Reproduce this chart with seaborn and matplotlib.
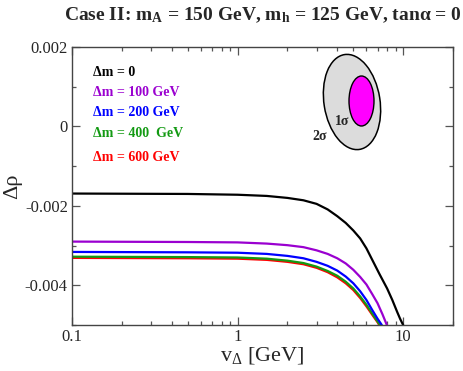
import numpy as np
import pandas as pd
import matplotlib
matplotlib.use("Agg")
import matplotlib.pyplot as plt
import matplotlib.transforms as mtransforms
from matplotlib.patches import Ellipse
from matplotlib.ticker import MultipleLocator, FixedLocator, FixedFormatter
import seaborn as sns

# values
labels = ["Δm = 0", "Δm = 100 GeV", "Δm = 200 GeV", "Δm = 400  GeV", "Δm = 600 GeV"]
colors = ["black", "#9a00d0", "#0000ff", "#139a13", "#ff0000"]

v_dm0 = [0.1, 0.5, 1.0, 1.5, 2.0, 2.5, 3.0, 3.5, 4.0, 4.5, 5.0, 5.5, 6.0,
         6.6, 7.2, 8.0, 8.6, 9.2, 9.6, 10.0]
rho_dm0 = [-0.00169, -0.00170, -0.00172, -0.00175, -0.00180, -0.00186,
           -0.00195, -0.00209, -0.00226, -0.00243, -0.00262, -0.00282,
           -0.00307, -0.00341, -0.00372, -0.00408, -0.00437, -0.00467,
           -0.00485, -0.00500]

v_dm100 = [0.1, 0.5, 1.0, 1.5, 2.0, 2.5, 3.0, 3.5, 4.0, 4.5, 5.0, 5.5, 6.0,
           6.5, 7.0, 7.5, 7.97]
rho_dm100 = [-0.00290, -0.00291, -0.00292, -0.00295, -0.00299, -0.00304,
             -0.00312, -0.00321, -0.00332, -0.00345, -0.00361, -0.00379,
             -0.00398, -0.00422, -0.00445, -0.00473, -0.00500]

v_dm200 = [0.1, 0.5, 1.0, 1.5, 2.0, 2.5, 3.0, 3.5, 4.0, 4.5, 5.0, 5.5, 6.0,
           6.5, 7.0, 7.43]
rho_dm200 = [-0.00316, -0.00317, -0.00318, -0.00321, -0.00326, -0.00332,
             -0.00341, -0.00351, -0.00363, -0.00378, -0.00395, -0.00415,
             -0.00437, -0.00462, -0.00484, -0.00500]

v_dm400 = [0.1, 0.5, 1.0, 1.5, 2.0, 2.5, 3.0, 3.5, 4.0, 4.5, 5.0, 5.5, 6.0,
           6.5, 7.0, 7.25]
rho_dm400 = [-0.00328, -0.00329, -0.00330, -0.00333, -0.00338, -0.00344,
             -0.00353, -0.00364, -0.00376, -0.00391, -0.00408, -0.00428,
             -0.00449, -0.00471, -0.00491, -0.00500]

v_dm600 = [0.1, 0.5, 1.0, 1.5, 2.0, 2.5, 3.0, 3.5, 4.0, 4.5, 5.0, 5.5, 6.0,
           6.5, 7.0, 7.18]
rho_dm600 = [-0.00331, -0.00332, -0.00333, -0.00336, -0.00341, -0.00347,
             -0.00356, -0.00367, -0.00380, -0.00395, -0.00412, -0.00432,
             -0.00453, -0.00474, -0.00493, -0.00500]

y_ticks = [-0.004, -0.002, 0.0, 0.002]
y_ticklabels = ["-0.004", "-0.002", "0", "0.002"]
x_ticks = [0.1, 1, 10]
x_ticklabels = ["0.1", "1", "10"]

sns.set_style("ticks")
plt.rcParams["font.family"] = ["Liberation Serif", "DejaVu Serif"]
plt.rcParams["mathtext.fontset"] = "custom"
plt.rcParams["mathtext.rm"] = "Liberation Serif"
plt.rcParams["mathtext.it"] = "Liberation Serif"
plt.rcParams["mathtext.bf"] = "Liberation Serif:bold"
plt.rcParams["mathtext.default"] = "regular"

all_v = [v_dm0, v_dm100, v_dm200, v_dm400, v_dm600]
all_rho = [rho_dm0, rho_dm100, rho_dm200, rho_dm400, rho_dm600]
df = pd.concat([pd.DataFrame({"v": v, "rho": r, "case": lab})
                for v, r, lab in zip(all_v, all_rho, labels)], ignore_index=True)

fig = plt.figure(figsize=(4.63, 3.71), dpi=100)
ax = fig.add_axes([72 / 463, 46 / 371, (453 - 72) / 463, (324 - 46) / 371])

# draw in reverse so black ends on top like the original
sns.lineplot(data=df, x="v", y="rho", hue="case", hue_order=labels[::-1],
             palette=colors[::-1], linewidth=1.6, legend=False, sort=False,
             estimator=None, ax=ax)

ax.set_xscale("log")
ax.set_xlim(0.1, 20)
ax.set_ylim(-0.005, 0.002)
ax.xaxis.set_major_locator(FixedLocator(x_ticks))
ax.xaxis.set_major_formatter(FixedFormatter(x_ticklabels))
ax.yaxis.set_major_locator(FixedLocator(y_ticks))
ax.yaxis.set_major_formatter(FixedFormatter(y_ticklabels))
ax.yaxis.set_minor_locator(MultipleLocator(0.001))
ax.tick_params(which="both", direction="in", top=True, right=True,
               labelsize=12, color="#555555", width=0.9)
ax.tick_params(which="major", length=6, pad=3)
ax.tick_params(which="minor", length=3)
for s in ax.spines.values():
    s.set_linewidth(1.0)
    s.set_color("#444444")

ax.set_xlabel(r"v$_{Δ}$ [GeV]", fontsize=16, labelpad=0)
ax.set_ylabel("Δρ", fontsize=16, labelpad=2)
ax.set_title(r"Case II: m$_{\mathbf{A}}$ = 150 GeV, m$_{\mathbf{h}}$ = 125 GeV, tanα = 0",
             fontsize=14, fontweight="bold", pad=19)

# legend as coloured text, rows placed as in the original
legend_y = [0.908, 0.837, 0.765, 0.690, 0.603]
for lab, col, yy in zip(labels, colors, legend_y):
    ax.text(0.055, yy, lab, color=col, fontsize=10,
            fontweight="bold", transform=ax.transAxes, va="center")

# 1 sigma / 2 sigma schematic
pix = mtransforms.IdentityTransform()
outer = Ellipse((352, 371 - 102), 56, 96, angle=9, facecolor="#dcdcdc",
                edgecolor="black", linewidth=1.1, transform=pix, zorder=3)
inner = Ellipse((361.5, 371 - 101), 25, 50, angle=0, facecolor="#ff00ff",
                edgecolor="black", linewidth=1.0, transform=pix, zorder=4)
fig.patches.extend([outer, inner])
fig.text(342 / 463, 1 - 122 / 371, "1σ", fontsize=10, fontweight="bold",
         ha="center", va="center", zorder=5)
fig.text(320 / 463, 1 - 137 / 371, "2σ", fontsize=10, fontweight="bold",
         ha="center", va="center", zorder=5)

fig.savefig("out.png", dpi=100)
